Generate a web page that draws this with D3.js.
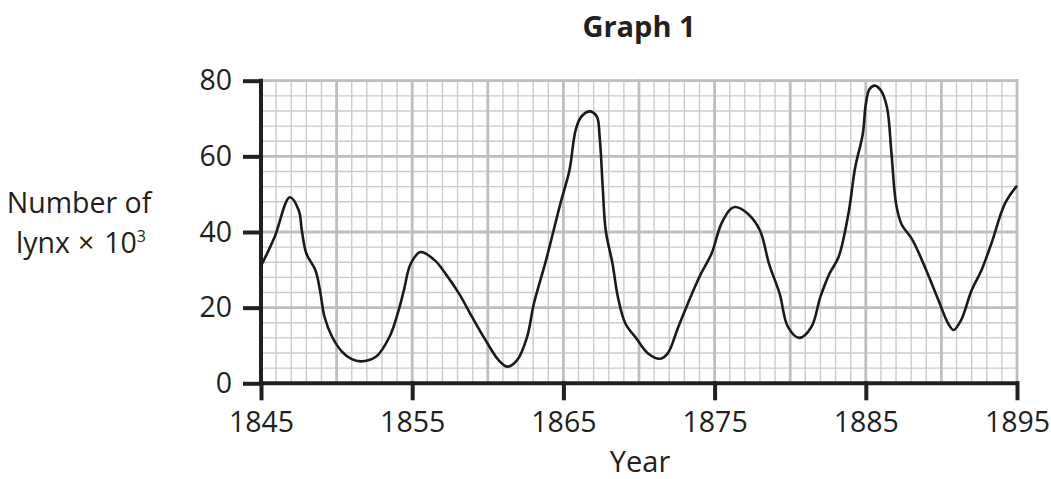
<!DOCTYPE html>
<html>
<head>
<meta charset="utf-8">
<script src="https://cdn.jsdelivr.net/npm/d3@7"></script>
<style>
  html, body { margin: 0; padding: 0; background: #fff; }
  svg { display: block; font-family: "Open Sans", "Noto Sans", sans-serif; }
</style>
</head>
<body>
<svg id="chart" width="1051" height="479"></svg>
<script>
// ---- data ----
const years = [1845.0, 1845.9, 1846.9, 1847.5, 1847.7, 1848.0, 1848.6, 1848.9, 1849.2, 1849.7, 1850.35, 1851.0, 1851.6, 1852.6, 1853.5, 1854.1, 1854.45, 1854.9, 1855.55, 1856.5, 1857.2, 1858.1, 1858.95, 1859.85, 1860.7, 1861.3, 1861.95, 1862.6, 1863.05, 1863.85, 1864.8, 1865.4, 1865.8, 1866.15, 1866.7, 1867.2, 1867.4, 1867.6, 1867.8, 1868.25, 1868.6, 1869.1, 1869.8, 1870.6, 1871.4, 1871.9, 1872.6, 1873.6, 1874.1, 1874.8, 1875.45, 1876.1, 1876.4, 1877.2, 1878.0, 1878.6, 1879.3, 1879.85, 1880.6, 1881.4, 1882.0, 1882.6, 1883.2, 1883.85, 1884.3, 1884.8, 1885.0, 1885.25, 1885.6, 1886.0, 1886.4, 1886.7, 1887.0, 1887.35, 1888.1, 1888.9, 1889.8, 1890.45, 1890.8, 1891.3, 1892.0, 1892.65, 1893.3, 1894.2, 1894.95];
const lynx = [31.0, 38.7, 49.2, 45.7, 40.4, 34.3, 29.9, 24.6, 17.6, 12.3, 8.4, 6.4, 5.8, 7.0, 12.3, 19.3, 24.6, 31.6, 34.7, 32.5, 29.0, 23.7, 17.6, 11.4, 6.2, 4.4, 6.2, 12.3, 21.1, 32.5, 47.5, 56.3, 66.8, 70.3, 71.9, 70.6, 65.0, 51.9, 40.4, 31.6, 22.9, 15.8, 12.0, 7.9, 6.5, 7.9, 14.9, 24.6, 29.0, 34.3, 42.2, 46.2, 46.6, 44.8, 40.4, 31.6, 23.7, 14.9, 12.0, 14.9, 22.9, 29.0, 33.4, 44.8, 57.1, 65.9, 73.8, 77.8, 78.7, 77.4, 73.0, 60.7, 47.5, 42.2, 37.8, 30.8, 22.0, 15.8, 14.1, 16.7, 24.6, 29.9, 36.9, 47.5, 52.0];

const xTicks = [1845, 1855, 1865, 1875, 1885, 1895];
const yTicks = [0, 20, 40, 60, 80];
const titleText = "Graph 1";
const xTitle = "Year";
const yTitleLine1 = "Number of";
const yTitleLine2 = "lynx";

// ---- layout ----
const svg = d3.select("#chart");
const x = d3.scaleLinear().domain([1845, 1895]).range([261, 1017]);
const y = d3.scaleLinear().domain([0, 80]).range([383.3, 80.7]);

// grid
const grid = svg.append("g");
const minorYears = d3.range(1845, 1896, 1);
const minorVals = d3.range(0, 81, 4);
grid.selectAll("line.vminor").data(minorYears.filter(d => d % 5 !== 0)).join("line")
  .attr("x1", d => x(d)).attr("x2", d => x(d)).attr("y1", y(80)).attr("y2", y(0))
  .attr("stroke", "#cbcbcd").attr("stroke-width", 1.4);
grid.selectAll("line.hminor").data(minorVals.filter(d => d % 20 !== 0)).join("line")
  .attr("x1", x(1845)).attr("x2", x(1895)).attr("y1", d => y(d)).attr("y2", d => y(d))
  .attr("stroke", "#cbcbcd").attr("stroke-width", 1.4);
grid.selectAll("line.vmajor").data(minorYears.filter(d => d % 5 === 0)).join("line")
  .attr("x1", d => x(d)).attr("x2", d => x(d)).attr("y1", y(80) - 1.5).attr("y2", y(0))
  .attr("stroke", "#bebec0").attr("stroke-width", 2.8);
grid.selectAll("line.hmajor").data(minorVals.filter(d => d % 20 === 0)).join("line")
  .attr("x1", x(1845)).attr("x2", x(1895) + 1.4).attr("y1", d => y(d)).attr("y2", d => y(d))
  .attr("stroke", "#bebec0").attr("stroke-width", 2.8);

// curve
const pts = years.map((yr, i) => [yr, lynx[i]]);
const line = d3.line().x(d => x(d[0])).y(d => y(d[1])).curve(d3.curveCatmullRom.alpha(0.5));
svg.append("path").datum(pts).attr("d", line)
  .attr("fill", "none").attr("stroke", "#1a1a1a").attr("stroke-width", 2.6)
  .attr("stroke-linejoin", "round").attr("stroke-linecap", "round");

// axes
const yAxis = d3.axisLeft(y).tickValues(yTicks).tickFormat(d3.format("d"))
  .tickSize(18).tickSizeOuter(0).tickPadding(11);
const gy = svg.append("g").attr("transform", `translate(${x(1845)},0)`).call(yAxis);
const xAxis = d3.axisBottom(x).tickValues(xTicks).tickFormat(d3.format("d"))
  .tickSize(17).tickSizeOuter(0).tickPadding(11);
const gx = svg.append("g").attr("transform", `translate(0,${y(0)})`).call(xAxis);
[gx, gy].forEach(g => {
  g.select(".domain").attr("stroke", "#231f20").attr("stroke-width", 4);
  g.selectAll(".tick line").attr("stroke", "#231f20").attr("stroke-width", 4);
  g.selectAll(".tick text").attr("fill", "#231f20").style("font-size", "28.5px")
    .style("font-family", "'Open Sans', sans-serif");
});
// extend domain lines so the corner closes
gy.select(".domain").attr("d", `M0,${y(80) - 2}V${y(0) + 2}`);
gx.select(".domain").attr("d", `M${x(1845) - 2},0H${x(1895) + 2}`);
gx.selectAll(".tick line").attr("y1", -2);
gy.selectAll(".tick line").attr("x1", 2);

// title
svg.append("text").attr("x", 639).attr("y", 37).attr("text-anchor", "middle")
  .style("font-size", "29px").style("font-weight", "bold").attr("fill", "#231f20")
  .text(titleText);

// x title
svg.append("text").attr("x", 640).attr("y", 472).attr("text-anchor", "middle")
  .style("font-size", "29px").attr("fill", "#231f20").text(xTitle);

// y title
svg.append("text").attr("x", 79).attr("y", 213).attr("text-anchor", "middle")
  .style("font-size", "28.5px").attr("fill", "#231f20").text(yTitleLine1);
const t2 = svg.append("text").attr("x", 81).attr("y", 253).attr("text-anchor", "middle")
  .style("font-size", "28.5px").attr("fill", "#231f20");
t2.append("tspan").text(yTitleLine2);
t2.append("tspan").attr("dx", 8).text("\u00D7");
t2.append("tspan").attr("dx", 10).text("10");
t2.append("tspan").attr("dy", -11).style("font-size", "16px").text("3");
</script>
</body>
</html>
